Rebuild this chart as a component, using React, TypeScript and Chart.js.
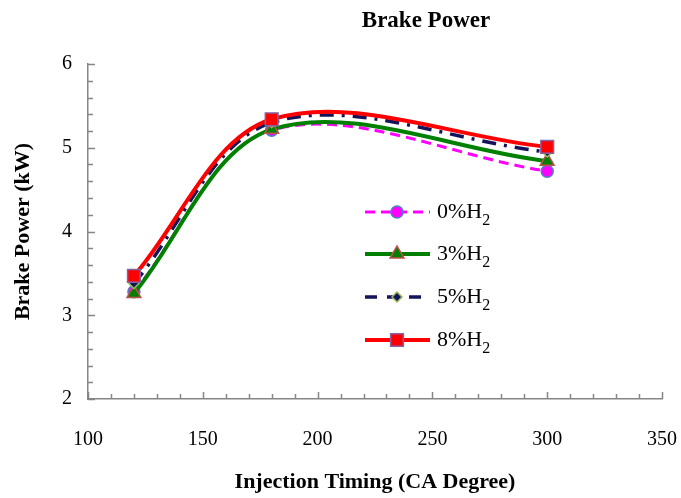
import React, { useEffect, useRef } from "react";
import { Chart, registerables } from "chart.js";

Chart.register(...registerables);

// ---- data ----
const injectionTiming = [120, 180, 300];
const seriesLabels = ["0%H₂", "3%H₂", "5%H₂", "8%H₂"];
const h2_0 = [3.28, 5.21, 4.72];
const h2_3 = [3.26, 5.22, 4.84];
const h2_5 = [3.38, 5.3, 4.95];
const h2_8 = [3.47, 5.34, 5.01];
const xTicks = [100, 150, 200, 250, 300, 350];
const yTicks = [2, 3, 4, 5, 6];
const chartTitle = "Brake Power";
const xTitle = "Injection Timing (CA Degree)";
const yTitle = "Brake Power (kW)";

const SERIF = "'Liberation Serif', 'Times New Roman', serif";
Chart.defaults.font.family = SERIF;

type Style = {
  color: string;
  border: string;
  width: number;
  dash: number[];
  point: string;
  radius: number;
};

const styles: Style[] = [
  { color: "#FF00FF", border: "#4F81BD", width: 3, dash: [10, 6], point: "circle", radius: 6 },
  { color: "#008000", border: "#C0504D", width: 4, dash: [], point: "triangle", radius: 8 },
  { color: "#14145A", border: "#9BBB59", width: 3.5, dash: [14, 8, 3, 8], point: "rectRot", radius: 5 },
  { color: "#FF0000", border: "#8064A2", width: 4, dash: [], point: "rect", radius: 9 },
];

function drawMarker(ctx: CanvasRenderingContext2D, s: Style, x: number, y: number) {
  ctx.save();
  ctx.setLineDash([]);
  ctx.fillStyle = s.color;
  ctx.strokeStyle = s.border;
  ctx.lineWidth = 1.5;
  ctx.beginPath();
  const r = s.radius;
  if (s.point === "circle") {
    ctx.arc(x, y, r, 0, Math.PI * 2);
  } else if (s.point === "triangle") {
    ctx.moveTo(x - r * 0.866, y + r * 0.5);
    ctx.lineTo(x + r * 0.866, y + r * 0.5);
    ctx.lineTo(x, y - r);
    ctx.closePath();
  } else if (s.point === "rectRot") {
    ctx.moveTo(x, y - r);
    ctx.lineTo(x + r, y);
    ctx.lineTo(x, y + r);
    ctx.lineTo(x - r, y);
    ctx.closePath();
  } else {
    const h = r * Math.SQRT1_2;
    ctx.rect(x - h, y - h, 2 * h, 2 * h);
  }
  ctx.fill();
  ctx.stroke();
  ctx.restore();
}

const decorPlugin = {
  id: "decor",
  afterDraw(chart: any) {
    const ctx: CanvasRenderingContext2D = chart.ctx;
    const xs = chart.scales.x;
    const ys = chart.scales.y;
    const area = chart.chartArea;
    ctx.save();
    // inward tick marks
    ctx.strokeStyle = "#868686";
    ctx.lineWidth = 1.5;
    for (let v = xTicks[0]; v <= xTicks[xTicks.length - 1] + 0.001; v += 10) {
      const px = Math.round(xs.getPixelForValue(v)) + 0.5;
      const major = Math.abs(v % 50) < 0.001;
      ctx.beginPath();
      ctx.moveTo(px, area.bottom);
      ctx.lineTo(px, area.bottom - (major ? 7 : 5));
      ctx.stroke();
    }
    for (let i = 0; i <= 20; i++) {
      const v = yTicks[0] + i * 0.2;
      const py = Math.round(ys.getPixelForValue(v)) + 0.5;
      const major = i % 5 === 0;
      ctx.beginPath();
      ctx.moveTo(area.left, py);
      ctx.lineTo(area.left + (major ? 7 : 5), py);
      ctx.stroke();
    }
    // title
    ctx.fillStyle = "#000";
    ctx.font = `bold 23px ${SERIF}`;
    ctx.textAlign = "center";
    ctx.textBaseline = "middle";
    ctx.fillText(chartTitle, 426, 21);

    // legend
    const rows = [212, 254, 297, 340];
    seriesLabels.forEach((label, i) => {
      const s = styles[i];
      const y = rows[i];
      ctx.save();
      ctx.strokeStyle = s.color;
      ctx.lineWidth = s.width;
      ctx.setLineDash(i === 2 ? [12, 10] : s.dash);
      ctx.beginPath();
      ctx.moveTo(365, y);
      ctx.lineTo(430, y);
      ctx.stroke();
      ctx.restore();
      drawMarker(ctx, s, 397, y);
      const base = label.replace("₂", "");
      ctx.fillStyle = "#000";
      ctx.textAlign = "left";
      ctx.textBaseline = "middle";
      ctx.font = `22px ${SERIF}`;
      ctx.fillText(base, 437, y);
      const w = ctx.measureText(base).width;
      ctx.font = `16px ${SERIF}`;
      ctx.fillText("2", 437 + w, y + 9);
    });
    ctx.restore();
  },
};

export default function App() {
  const ref = useRef<HTMLCanvasElement | null>(null);
  useEffect(() => {
    if (!ref.current) return;
    const seriesData = [h2_0, h2_3, h2_5, h2_8];
    const chart = new Chart(ref.current, {
      type: "line",
      data: {
        datasets: seriesData.map((vals, i) => ({
          label: seriesLabels[i],
          data: injectionTiming.map((x, j) => ({ x, y: vals[j] })),
          borderColor: styles[i].color,
          backgroundColor: styles[i].color,
          borderWidth: styles[i].width,
          borderDash: styles[i].dash,
          pointStyle: styles[i].point as any,
          pointRadius: styles[i].radius,
          pointBackgroundColor: styles[i].color,
          pointBorderColor: styles[i].border,
          pointBorderWidth: 1.5,
          tension: 0.34,
          fill: false,
          order: 3 - i,
        })),
      },
      options: {
        animation: false,
        responsive: false,
        devicePixelRatio: 1,
        layout: { padding: { left: 0, right: 19, top: 64, bottom: 0 } },
        plugins: {
          legend: { display: false },
          title: { display: false },
          tooltip: { enabled: false },
        },
        scales: {
          x: {
            type: "linear",
            min: 100,
            max: 350,
            afterFit: (s: any) => {
              s.height = 99;
              s.paddingLeft = 0;
              s.paddingRight = 0;
            },
            afterBuildTicks: (s: any) => {
              s.ticks = xTicks.map((v) => ({ value: v }));
            },
            grid: { display: false, drawTicks: false },
            border: { display: true, color: "#868686", width: 1.5 },
            ticks: {
              padding: 29,
              color: "#000",
              font: { family: SERIF, size: 20 },
              maxRotation: 0,
            },
            title: {
              display: true,
              text: xTitle,
              color: "#000",
              font: { family: SERIF, size: 22, weight: "bold" },
              padding: { top: 0, bottom: 2 },
            },
          },
          y: {
            type: "linear",
            min: 2,
            max: 6,
            afterFit: (s: any) => {
              s.width = 88;
              s.paddingTop = 0;
              s.paddingBottom = 0;
            },
            afterBuildTicks: (s: any) => {
              s.ticks = yTicks.map((v) => ({ value: v }));
            },
            grid: { display: false, drawTicks: false },
            border: { display: true, color: "#868686", width: 1.5 },
            ticks: {
              padding: 16,
              color: "#000",
              font: { family: SERIF, size: 20 },
            },
            title: {
              display: true,
              text: yTitle,
              color: "#000",
              font: { family: SERIF, size: 22, weight: "bold" },
              padding: { top: 10, bottom: 0 },
            },
          },
        },
      },
      plugins: [decorPlugin],
    });
    return () => chart.destroy();
  }, []);
  return (
    <div style={{ position: "absolute", left: 0, top: 0, width: 681, height: 498, background: "#fff" }}>
      <canvas ref={ref} width={681} height={498} style={{ display: "block" }} />
    </div>
  );
}
